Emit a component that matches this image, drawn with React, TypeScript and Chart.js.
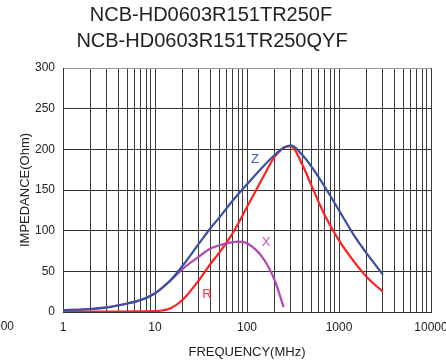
import React, { useEffect, useRef } from "react";
import { Chart, registerables } from "chart.js";

Chart.register(...registerables);

const titleLines = ["NCB-HD0603R151TR250F", "NCB-HD0603R151TR250QYF"];
const xAxisTitle = "FREQUENCY(MHz)";
const yAxisTitle = "IMPEDANCE(Ohm)";

const freqs = [1, 2, 3, 5, 7, 10, 15, 20, 30, 40, 50, 70, 100, 150, 200, 250, 300, 400, 500, 700, 1000, 1500, 2000, 3000];
const zValues = [2, 3.7, 5.7, 10.5, 14.7, 23, 40, 57, 84, 103, 116, 137, 157, 179, 193, 202, 205, 193, 179, 154, 125, 92, 72, 46];
const rValues = [0.5, 0.5, 0.5, 0.6, 0.7, 1, 5, 15, 39, 59, 73, 97, 129, 166, 191, 202, 204, 181, 156, 119, 88, 60, 43, 25];
const xFreqs = [1, 2, 3, 5, 7, 10, 15, 20, 30, 40, 50, 70, 80, 100, 150, 200, 250];
const xValues = [2, 3.7, 5.7, 10.5, 14.7, 23, 39.5, 53, 68, 78, 82, 86, 86.5, 84.5, 66, 39, 6];

const xGridValues = [
  1, 2, 3, 4, 5, 6, 7, 8, 9,
  10, 20, 30, 40, 50, 60, 70, 80, 90,
  100, 200, 300, 400, 500, 600, 700, 800, 900,
  1000, 2000, 3000, 4000, 5000, 6000, 7000, 8000, 9000,
  10000,
];
const xLabelValues = [1, 10, 100, 1000, 10000];

const seriesLabels = [
  { text: "Z", f: 122, v: 187, color: "#3f5cb0" },
  { text: "X", f: 161, v: 85, color: "#c050c0" },
  { text: "R", f: 36.6, v: 22, color: "#ff3030" },
];

const FONT = "'Liberation Sans', Arial, sans-serif";

const overlayPlugin = {
  id: "overlay",
  afterDraw(chart: any) {
    const ctx = chart.ctx;
    ctx.save();
    ctx.fillStyle = "#222";
    ctx.font = `20px ${FONT}`;
    ctx.textAlign = "center";
    ctx.textBaseline = "middle";
    ctx.fillText(titleLines[0], 211, 15);
    ctx.fillText(titleLines[1], 212, 41);

    // partial label cut off at the far left edge
    ctx.font = `12px ${FONT}`;
    ctx.textAlign = "right";
    ctx.fillText("10000", 14, 327);

    const xs = chart.scales.x;
    const ys = chart.scales.y;
    ctx.font = `13px ${FONT}`;
    ctx.textAlign = "center";
    for (const l of seriesLabels) {
      ctx.fillStyle = l.color;
      ctx.fillText(l.text, xs.getPixelForValue(l.f), ys.getPixelForValue(l.v));
    }
    ctx.restore();
  },
};

export default function App() {
  const ref = useRef<HTMLCanvasElement | null>(null);

  useEffect(() => {
    document.body.style.margin = "0";
    if (!ref.current) return;
    const chart = new Chart(ref.current, {
      type: "line",
      data: {
        datasets: [
          {
            label: "Z",
            data: freqs.map((f, i) => ({ x: f, y: zValues[i] })),
            borderColor: "#3550a5",
            borderWidth: 2.2,
            pointRadius: 0,
            cubicInterpolationMode: "monotone",
          },
          {
            label: "X",
            data: xFreqs.map((f, i) => ({ x: f, y: xValues[i] })),
            borderColor: "#b048b0",
            borderWidth: 2.2,
            pointRadius: 0,
            cubicInterpolationMode: "monotone",
          },
          {
            label: "R",
            data: freqs.map((f, i) => ({ x: f, y: rValues[i] })),
            borderColor: "#ff2020",
            borderWidth: 2.2,
            pointRadius: 0,
            cubicInterpolationMode: "monotone",
          },
        ],
      },
      options: {
        responsive: false,
        animation: false,
        layout: { padding: { top: 68, right: 15, left: 0, bottom: 0 } },
        plugins: {
          legend: { display: false },
          tooltip: { enabled: false },
          title: { display: false },
        },
        scales: {
          x: {
            type: "logarithmic",
            min: 1,
            max: 10000,
            afterBuildTicks: (scale: any) => {
              scale.ticks = xGridValues.map((v) => ({ value: v }));
            },
            afterFit: (scale: any) => {
              scale.height = 50;
              scale.paddingLeft = 0;
              scale.paddingRight = 0;
            },
            ticks: {
              autoSkip: false,
              maxRotation: 0,
              padding: 8,
              color: "#222",
              font: { family: FONT, size: 12 },
              callback: (v: any) => (xLabelValues.includes(Number(v)) ? String(v) : ""),
            },
            grid: { color: "#3a3a3a", lineWidth: 1, drawTicks: false },
            border: { color: "#333", width: 1 },
            title: {
              display: true,
              text: xAxisTitle,
              color: "#222",
              font: { family: FONT, size: 13 },
              padding: { top: 0, bottom: 2 },
            },
          },
          y: {
            min: 0,
            max: 300,
            afterFit: (scale: any) => {
              scale.width = 63;
              scale.paddingTop = 0;
              scale.paddingBottom = 0;
            },
            ticks: {
              stepSize: 50,
              padding: 8,
              color: "#222",
              font: { family: FONT, size: 12 },
            },
            grid: {
              color: (c: any) => (c.tick && c.tick.value === 300 ? "#999" : "#333"),
              lineWidth: 1,
              drawTicks: false,
            },
            border: { color: "#333", width: 1 },
            title: {
              display: true,
              text: yAxisTitle,
              color: "#222",
              font: { family: FONT, size: 13 },
              padding: { top: 18, bottom: 0 },
            },
          },
        },
      },
      plugins: [overlayPlugin],
    } as any);
    return () => chart.destroy();
  }, []);

  return (
    <div style={{ width: 446, height: 362 }}>
      <canvas ref={ref} width={446} height={362} />
    </div>
  );
}
